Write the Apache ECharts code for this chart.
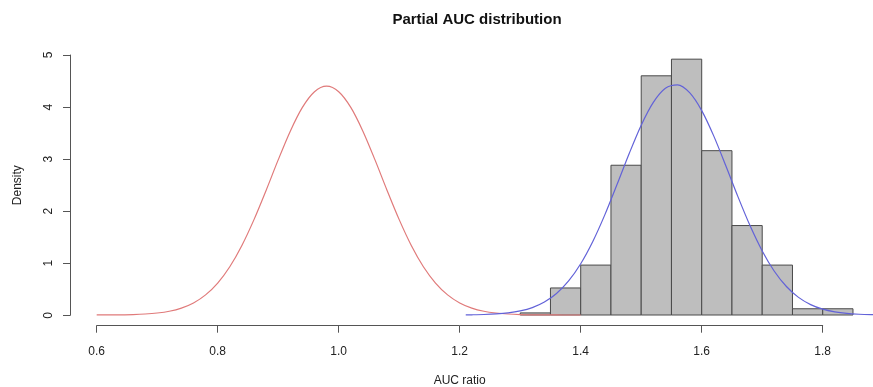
<!DOCTYPE html>
<html>
<head>
<meta charset="utf-8">
<script src="https://cdn.jsdelivr.net/npm/echarts@6/dist/echarts.min.js"></script>
<style>
  html, body { margin: 0; padding: 0; background: #fff; }
  #chart { width: 873px; height: 387px; }
</style>
</head>
<body>
<div id="chart"></div>
<script>
// histogram of observed AUC ratios (bin width 0.05)
const binStarts = [1.30, 1.35, 1.40, 1.45, 1.50, 1.55, 1.60, 1.65, 1.70, 1.75, 1.80];
const binWidth = 0.05;
const binDensity = [0.04, 0.52, 0.96, 2.88, 4.60, 4.92, 3.16, 1.72, 0.96, 0.12, 0.12];

// red curve (null distribution)
const nullX = [0.60, 0.62, 0.64, 0.66, 0.68, 0.70, 0.72, 0.74, 0.76, 0.78, 0.80, 0.82, 0.84, 0.86,
  0.88, 0.90, 0.92, 0.94, 0.96, 0.98, 1.00, 1.02, 1.04, 1.06, 1.08, 1.10, 1.12, 1.14, 1.16, 1.18,
  1.20, 1.22, 1.24, 1.26, 1.28, 1.30, 1.32, 1.34, 1.36, 1.38, 1.40];
const nullY = [0.0007, 0.0017, 0.004, 0.0087, 0.019, 0.038, 0.072, 0.133, 0.232, 0.387, 0.614, 0.928,
  1.337, 1.834, 2.396, 2.983, 3.535, 3.992, 4.294, 4.400, 4.294, 3.992, 3.535, 2.983, 2.396, 1.834,
  1.337, 0.928, 0.614, 0.387, 0.232, 0.133, 0.072, 0.038, 0.019, 0.0087, 0.004, 0.0017, 0.0007,
  0.0003, 0.0001];

// blue curve (fitted to observed)
const obsX = [1.21, 1.22, 1.24, 1.26, 1.28, 1.30, 1.32, 1.34, 1.36, 1.38, 1.40, 1.42, 1.44, 1.46,
  1.48, 1.50, 1.52, 1.54, 1.56, 1.58, 1.60, 1.62, 1.64, 1.66, 1.68, 1.70, 1.72, 1.74, 1.76, 1.78,
  1.80, 1.82, 1.84, 1.86, 1.88, 1.90];
const obsY = [0.003, 0.0042, 0.0093, 0.0198, 0.040, 0.078, 0.142, 0.249, 0.414, 0.655, 0.986, 1.414,
  1.930, 2.508, 3.101, 3.650, 4.089, 4.360, 4.426, 4.275, 3.931, 3.440, 2.866, 2.272, 1.715, 1.232,
  0.842, 0.548, 0.339, 0.200, 0.112, 0.060, 0.030, 0.0148, 0.0068, 0.003];

const xTicks = [0.6, 0.8, 1.0, 1.2, 1.4, 1.6, 1.8];
const yTicks = [0, 1, 2, 3, 4, 5];

const font = "'Liberation Sans', Arial, sans-serif";
const chart = echarts.init(document.getElementById('chart'));

const histData = binStarts.map((s, i) => [s, s + binWidth, binDensity[i]]);

const option = {
  animation: false,
  title: {
    text: 'Partial AUC distribution',
    left: 472,
    textAlign: 'center',
    top: 7,
    textStyle: { fontFamily: font, fontSize: 15, fontWeight: 'bold', color: '#111' }
  },
  grid: [
    // plot region (R style, 4% padding around the axis ranges)
    { left: 70, right: 0, top: 44.6, bottom: 61.6, outerBoundsMode: 'none' },
    // axes only, lines span first to last tick
    { left: 96.7, right: 50.3, top: 55, bottom: 71.7, outerBoundsMode: 'none' }
  ],
  xAxis: [
    { gridIndex: 0, type: 'value', min: 0.5559, max: 1.8831, show: false },
    {
      gridIndex: 1,
      type: 'value',
      min: xTicks[0],
      max: xTicks[xTicks.length - 1],
      interval: 0.2,
      offset: 10.4,
      name: 'AUC ratio',
      nameLocation: 'middle',
      nameGap: 49,
      nameTextStyle: { fontFamily: font, fontSize: 12, color: '#222' },
      axisLine: { show: true, onZero: false, lineStyle: { color: '#555', width: 1 } },
      axisTick: { show: true, length: 7, lineStyle: { color: '#555' } },
      axisLabel: {
        fontFamily: font, fontSize: 12, color: '#222', margin: 20,
        formatter: v => v.toFixed(1)
      },
      splitLine: { show: false }
    }
  ],
  yAxis: [
    { gridIndex: 0, type: 'value', min: -0.2, max: 5.2, show: false },
    {
      gridIndex: 1,
      type: 'value',
      min: yTicks[0],
      max: yTicks[yTicks.length - 1],
      interval: 1,
      offset: 26.7,
      name: 'Density',
      nameLocation: 'middle',
      nameGap: 46,
      nameTextStyle: { fontFamily: font, fontSize: 12, color: '#222' },
      axisLine: { show: true, onZero: false, lineStyle: { color: '#555', width: 1 } },
      axisTick: { show: true, length: 7, lineStyle: { color: '#555' } },
      axisLabel: { fontFamily: font, fontSize: 12, color: '#222', margin: 15, rotate: 90 },
      splitLine: { show: false }
    }
  ],
  series: [
    {
      type: 'custom',
      xAxisIndex: 0,
      yAxisIndex: 0,
      encode: { x: [0, 1], y: 2 },
      data: histData,
      renderItem: function (params, api) {
        const p0 = api.coord([api.value(0), api.value(2)]);
        const p1 = api.coord([api.value(1), 0]);
        return {
          type: 'rect',
          shape: { x: p0[0], y: p0[1], width: p1[0] - p0[0], height: p1[1] - p0[1] },
          style: { fill: '#bebebe', stroke: '#4a4a4a', lineWidth: 1 }
        };
      }
    },
    {
      type: 'line',
      xAxisIndex: 0,
      yAxisIndex: 0,
      smooth: 0.3,
      showSymbol: false,
      data: nullX.map((x, i) => [x, nullY[i]]),
      lineStyle: { color: '#e07a7a', width: 1.2 }
    },
    {
      type: 'line',
      xAxisIndex: 0,
      yAxisIndex: 0,
      smooth: 0.3,
      showSymbol: false,
      data: obsX.map((x, i) => [x, obsY[i]]),
      lineStyle: { color: '#6262d8', width: 1.2 }
    }
  ]
};

chart.setOption(option);
</script>
</body>
</html>
